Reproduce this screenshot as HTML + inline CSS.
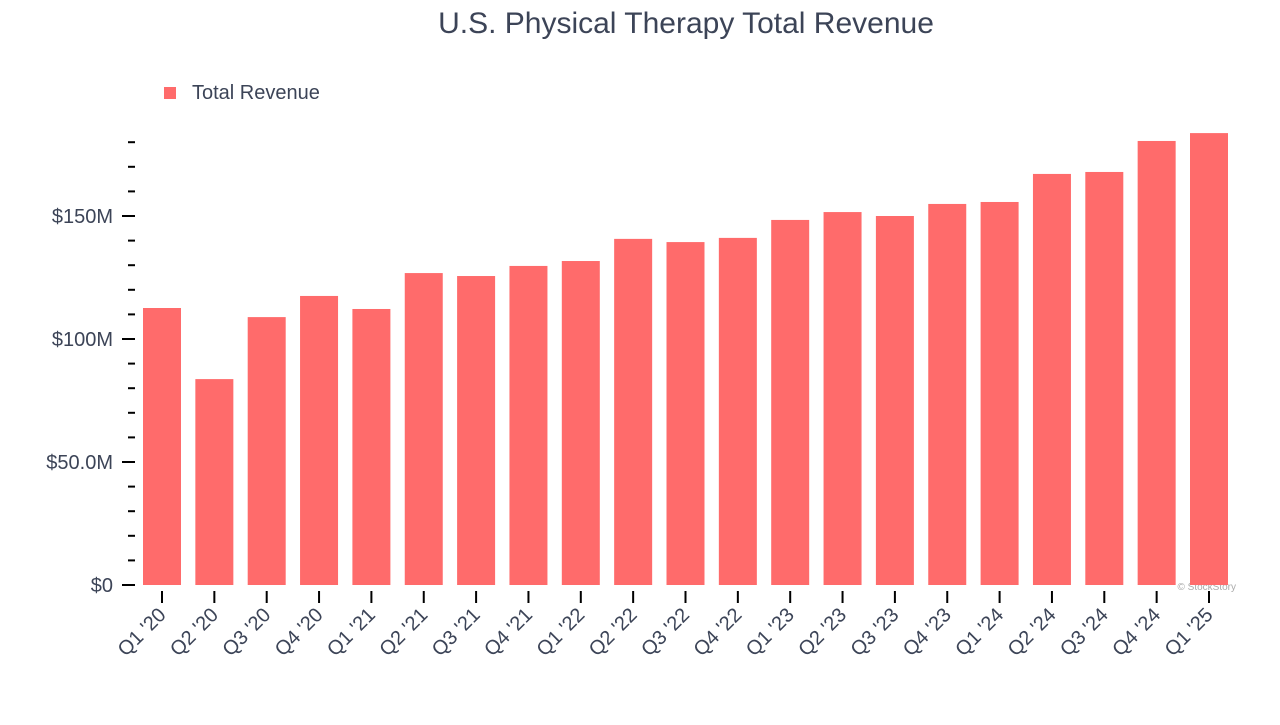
<!DOCTYPE html>
<html><head><meta charset="utf-8"><style>
body{margin:0;background:#fff;font-family:"Liberation Sans",sans-serif;}
svg text{font-family:"Liberation Sans",sans-serif;}
</style></head><body>
<svg id="c" width="1280" height="720" xmlns="http://www.w3.org/2000/svg">
<text x="686" y="33" font-size="30" fill="#3c4457" text-anchor="middle">U.S. Physical Therapy Total Revenue</text>
<g>
<rect x="164" y="87" width="12" height="12" fill="#ff6b6b"/>
<text x="192" y="99" font-size="20" fill="#3c4457">Total Revenue</text>
</g>
<text x="1236" y="590" font-size="10" fill="#aaa" text-anchor="end">© StockStory</text>
<g id="axes"></g><g id="bars"></g>
</svg>
<script>
const categories=["Q1 '20","Q2 '20","Q3 '20","Q4 '20","Q1 '21","Q2 '21","Q3 '21","Q4 '21","Q1 '22","Q2 '22","Q3 '22","Q4 '22","Q1 '23","Q2 '23","Q3 '23","Q4 '23","Q1 '24","Q2 '24","Q3 '24","Q4 '24","Q1 '25"];
const revenue=[112.6,83.7,108.9,117.5,112.2,126.8,125.6,129.7,131.7,140.7,139.4,141.1,148.4,151.6,150.0,154.9,155.7,167.1,167.9,180.5,183.7];
const tickValues=[0,50,100,150];
const tickLabels=["$0","$50.0M","$100M","$150M"];
const NS="http://www.w3.org/2000/svg";
const y=v=>585-v*2.46;
const x=i=>162+i*52.35;
function mk(tag,attrs,parent){const e=document.createElementNS(NS,tag);for(const k in attrs)e.setAttribute(k,attrs[k]);parent.appendChild(e);return e;}
const ax=document.getElementById('axes'),bg=document.getElementById('bars');
for(let v=0;v<=180;v+=10){
  const major=v%50===0;
  const t=mk('line',{x1:major?122:128,x2:135,y1:y(v),y2:y(v),stroke:'#000','stroke-width':2},ax);
  
  
}
tickValues.forEach((v,i)=>{
  const t=mk('text',{x:113,y:y(v)+7,'font-size':20,fill:'#3c4457','text-anchor':'end'},ax);
  t.textContent=tickLabels[i];
  
  
});
categories.forEach((c,i)=>{
  const b=mk('rect',{x:x(i)-19,y:y(revenue[i]),width:38,height:585-y(revenue[i]),fill:'#ff6b6b'},bg);
  
  
  const t=mk('line',{x1:x(i),x2:x(i),y1:591,y2:603,stroke:'#000','stroke-width':2},ax);
  
  
  const l=mk('text',{x:x(i)+5,y:616,'font-size':20,fill:'#3c4457','text-anchor':'end',transform:`rotate(-45 ${x(i)+5} 616)`},ax);
  l.textContent=c;
  
  
});
</script>
</body></html>
